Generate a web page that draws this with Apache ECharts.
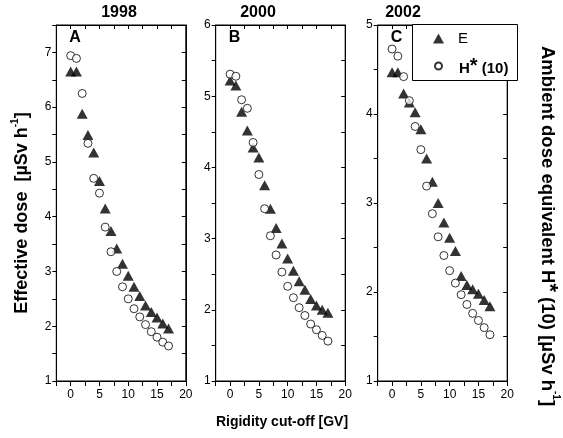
<!DOCTYPE html>
<html>
<head>
<meta charset="utf-8">
<script src="https://cdn.jsdelivr.net/npm/echarts@6/dist/echarts.min.js"></script>
<style>
html,body{margin:0;padding:0;background:#fff;}
#c{width:563px;height:438px;}
</style>
</head>
<body>
<div id="c"></div>
<script>
// ---- data ----
const cutoff = [0, 1, 2, 3, 4, 5, 6, 7, 8, 9, 10, 11, 12, 13, 14, 15, 16, 17];
const years = ['1998', '2000', '2002'];
const panelLetters = ['A', 'B', 'C'];
const E1998 = [6.65, 6.65, 5.88, 5.49, 5.17, 4.65, 4.15, 3.74, 3.42, 3.14, 2.92, 2.72, 2.55, 2.38, 2.26, 2.16, 2.05, 1.96];
const H1998 = [6.94, 6.89, 6.25, 5.34, 4.70, 4.43, 3.81, 3.36, 3.00, 2.72, 2.50, 2.32, 2.17, 2.03, 1.90, 1.80, 1.71, 1.64];
const E2000 = [5.22, 5.15, 4.78, 4.52, 4.28, 4.14, 3.75, 3.42, 3.15, 2.93, 2.72, 2.55, 2.40, 2.28, 2.15, 2.06, 2.00, 1.96];
const H2000 = [5.31, 5.28, 4.95, 4.83, 4.35, 3.90, 3.42, 3.04, 2.77, 2.53, 2.33, 2.17, 2.03, 1.92, 1.80, 1.72, 1.64, 1.56];
const E2002 = [4.47, 4.47, 4.23, 4.13, 4.02, 3.83, 3.50, 3.24, 3.00, 2.78, 2.61, 2.46, 2.18, 2.08, 2.03, 1.98, 1.91, 1.84];
const H2002 = [4.73, 4.65, 4.42, 4.15, 3.86, 3.60, 3.19, 2.88, 2.62, 2.41, 2.24, 2.10, 1.97, 1.86, 1.76, 1.68, 1.60, 1.52];
const yMax = [7.5, 6, 5];
const xTitle = 'Rigidity cut-off [GV]';

const Eall = [E1998, E2000, E2002];
const Hall = [H1998, H2000, H2002];

// ---- layout ----
const gridLefts = [56.3, 215.7, 377.7];
const gridW = 129.5;
const gridTop = 25, gridBottomY = 381;
const FONT = 'Liberation Sans, Arial, sans-serif';

const ls = () => ({color: '#000', width: 1});
const grids = [], xAxes = [], yAxes = [], series = [];
for (let i = 0; i < 3; i++) {
  grids.push({left: gridLefts[i], top: gridTop, width: gridW, height: gridBottomY - gridTop,
    show: true, borderColor: '#000', borderWidth: 1, backgroundColor: 'transparent'});
  xAxes.push({
    type: 'value', gridIndex: i, position: 'bottom', min: -2.5, max: 20, interval: 2.5,
    axisLine: {show: true, onZero: false, lineStyle: ls()},
    axisTick: {show: true, inside: false, length: 5, lineStyle: ls()},
    axisLabel: {color: '#000', fontSize: 12, fontFamily: FONT, margin: 8,
      formatter: v => (Math.abs(v % 5) < 1e-9 ? String(v) : '')},
    splitLine: {show: false}
  });
  xAxes.push({
    type: 'value', gridIndex: i, position: 'top', min: -2.5, max: 20, interval: 2.5,
    axisLine: {show: true, onZero: false, lineStyle: ls()},
    axisTick: {show: true, inside: true, length: 4, lineStyle: ls()},
    axisLabel: {show: false}, splitLine: {show: false}
  });
  yAxes.push({
    type: 'value', gridIndex: i, position: 'left', min: 1, max: yMax[i], interval: 0.5,
    axisLine: {show: true, onZero: false, lineStyle: ls()},
    axisTick: {show: true, inside: false, length: 4, lineStyle: ls()},
    axisLabel: {color: '#000', fontSize: 12, fontFamily: FONT, margin: 5,
      formatter: v => (Math.abs(v % 1) < 1e-9 ? String(v) : '')},
    splitLine: {show: false}
  });
  yAxes.push({
    type: 'value', gridIndex: i, position: 'right', min: 1, max: yMax[i], interval: 0.5,
    axisLine: {show: true, onZero: false, lineStyle: ls()},
    axisTick: {show: true, inside: true, length: 4, lineStyle: ls()},
    axisLabel: {show: false}, splitLine: {show: false}
  });
  series.push({
    name: 'E', type: 'scatter', xAxisIndex: 2 * i, yAxisIndex: 2 * i,
    symbol: 'triangle', symbolSize: [11, 10],
    itemStyle: {color: '#000'},
    data: cutoff.map((x, k) => [x, Eall[i][k]]), z: 2
  });
  series.push({
    name: 'H', type: 'scatter', xAxisIndex: 2 * i + 1, yAxisIndex: 2 * i + 1,
    symbol: 'circle', symbolSize: 8,
    itemStyle: {color: '#fff', borderColor: '#000', borderWidth: 1},
    data: cutoff.map((x, k) => [x, Hall[i][k]]), z: 3
  });
}

const titleCenters = [119, 258, 403];
const graphics = [];
for (let i = 0; i < 3; i++) {
  graphics.push({type: 'text', x: titleCenters[i], y: 13,
    style: {text: years[i], font: 'bold 16px ' + FONT, fill: '#000', align: 'center', verticalAlign: 'middle'}});
  graphics.push({type: 'text', x: gridLefts[i] + 13, y: 30,
    style: {text: panelLetters[i], font: 'bold 16px ' + FONT, fill: '#000'}});
}
graphics.push({type: 'text', x: 282, y: 422,
  style: {text: xTitle, font: 'bold 14px ' + FONT, fill: '#000', align: 'center', verticalAlign: 'middle'}});
graphics.push({type: 'text', x: 21, y: 213, rotation: Math.PI / 2,
  style: {
    text: '{b|Effective dose  [µSv h}{s|-1}{b|]}',
    align: 'center', verticalAlign: 'middle',
    rich: {
      b: {font: 'bold 18px ' + FONT, fill: '#000', lineHeight: 21, verticalAlign: 'bottom'},
      s: {font: 'bold 10px ' + FONT, fill: '#000', lineHeight: 21, verticalAlign: 'top'}
    }
  }});
graphics.push({type: 'text', x: 549, y: 226, rotation: -Math.PI / 2,
  style: {
    text: '{b|Ambient dose equivalent H}{st|*}{b| (10) [µSv h}{s|-1}{b|]}',
    align: 'center', verticalAlign: 'middle',
    rich: {
      b: {font: 'bold 18.5px ' + FONT, fill: '#000', lineHeight: 23, verticalAlign: 'bottom'},
      st: {font: 'bold 22px ' + FONT, fill: '#000', lineHeight: 23, verticalAlign: 'top'},
      s: {font: 'bold 10px ' + FONT, fill: '#000', lineHeight: 23, verticalAlign: 'top'}
    }
  }});
// legend frame
graphics.push({type: 'rect', z: 5, shape: {x: 412.5, y: 24.5, width: 105, height: 56},
  style: {fill: '#fff', stroke: '#000', lineWidth: 1}});

const legendText = () => ({color: '#000', fontSize: 15, fontFamily: FONT,
  rich: {
    h: {fontSize: 15, fontWeight: 'bold', fontFamily: FONT, color: '#000', verticalAlign: 'bottom', lineHeight: 20},
    st: {fontSize: 20, fontWeight: 'bold', fontFamily: FONT, color: '#000', verticalAlign: 'top', lineHeight: 20},
    p: {fontSize: 15, fontWeight: 'bold', fontFamily: FONT, color: '#000', verticalAlign: 'bottom', lineHeight: 20}
  }});

const chart = echarts.init(document.getElementById('c'), null, {renderer: 'canvas'});
chart.setOption({
  backgroundColor: '#fff',
  animation: false,
  grid: grids,
  xAxis: xAxes,
  yAxis: yAxes,
  series: series,
  legend: [
    {data: ['E'], left: 433, top: 31, padding: 0, itemWidth: 11, itemHeight: 10, z: 10,
      textStyle: Object.assign(legendText(), {padding: [0, 0, 0, 9]}),
      formatter: 'E'},
    {data: ['H'], left: 434, top: 56, padding: 0, itemWidth: 7, itemHeight: 7, z: 10,
      textStyle: Object.assign(legendText(), {padding: [0, 0, 0, 12]}),
      formatter: () => '{h|H}{st|*}{p| (10)}'}
  ],
  graphic: graphics
});
</script>
</body>
</html>
